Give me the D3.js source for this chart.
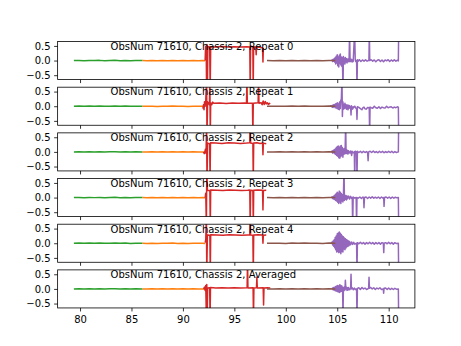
<!DOCTYPE html>
<html><head><meta charset="utf-8">
<script src="https://cdn.jsdelivr.net/npm/d3@7"></script>
<style>body{margin:0;background:#fff}svg{display:block}text{font-family:"DejaVu Sans",sans-serif}</style>
</head><body><div id="chart"></div>
<script>
const titlePrefix = "ObsNum 71610, Chassis 2, ";
const panelNames = ["Repeat 0","Repeat 1","Repeat 2","Repeat 3","Repeat 4","Averaged"];
const xTicks = [80,85,90,95,100,105,110];
const yTicks = [-0.5,0.0,0.5];
const yLimits = [-0.65,0.65];

const greenPts = [[79.4,0.0],[79.9,0.004],[80.4,-0.003],[80.9,0.005],[81.4,-0.002],[81.9,0.006],[82.4,-0.004],[82.9,0.003],[83.4,0.008],[83.9,-0.003],[84.4,0.004],[84.9,-0.005],[85.4,0.003],[86.06,0.0]];
const orangePts = [[86.06,0.0],[86.5,-0.005],[87,0.003],[87.5,-0.006],[88,0.002],[88.5,-0.004],[89,0.004],[89.5,-0.005],[90,0.002],[90.5,-0.006],[91,0.003],[91.5,-0.004],[91.9,0.0],[92.16,-0.01]];
const brownPts = [[98.17,0.0],[98.8,-0.004],[99.4,0.003],[100,-0.005],[100.6,0.004],[101.2,-0.003],[101.8,0.005],[102.4,-0.004],[103,0.003],[103.6,-0.005],[104.2,0.004],[104.81,0.0]];

const redPts = [
 [[92.16,0.0],[92.2,0.47],[92.26,0.5],[92.3,-1],[92.34,0.55],[92.38,-1],[92.42,0.48],[92.6,0.46],[92.65,-1],[92.7,0.47],[93.2,0.46],[93.8,0.48],[94.4,0.46],[95.0,0.47],[95.6,0.46],[96.2,0.47],[96.5,0.46],[96.54,-1],[96.58,0.5],[96.8,0.46],[96.83,-1],[96.87,0.47],[97.08,0.46],[97.12,0.2],[97.16,0.46],[97.5,0.45],[97.74,0.44],[97.78,-0.05],[97.82,0.43]],
 [[91.94,-0.08],[92.0,0.05],[92.05,-0.12],[92.1,0.15],[92.16,0.0],[92.22,0.2],[92.3,1],[92.34,-1],[92.4,0.15],[92.58,0.05],[92.62,1],[92.66,-1],[92.7,0.12],[92.8,0.05],[92.9,0.14],[93.0,0.1],[93.6,0.11],[94.2,0.09],[94.8,0.11],[95.4,0.1],[96.0,0.11],[96.18,0.1],[96.22,1],[96.26,0.1],[96.76,0.1],[96.8,-1],[96.84,0.1],[97.31,0.12],[97.35,1],[97.39,0.1],[97.6,0.12],[97.7,0.05],[97.8,0.18],[97.9,0.06],[98.0,0.16],[98.1,0.08],[98.2,0.12],[98.3,0.06],[98.4,0.1],[98.49,0.08]],
 [[92.0,0.0],[92.08,-0.06],[92.16,0.05],[92.2,0.1],[92.25,-0.05],[92.3,1],[92.34,-1],[92.4,0.3],[92.6,0.28],[92.64,-1],[92.68,0.31],[93.2,0.3],[93.8,0.29],[94.4,0.31],[95.0,0.3],[95.6,0.29],[96.2,0.3],[96.5,0.31],[96.54,1],[96.58,0.3],[96.8,0.29],[96.84,-1],[96.88,0.3],[97.2,0.31],[97.5,0.29],[97.74,0.3],[97.78,-0.1],[97.82,0.3],[98.1,0.28]],
 [[92.16,0.0],[92.22,0.15],[92.28,-1],[92.32,1],[92.38,0.25],[92.62,0.24],[92.66,-1],[92.7,0.26],[93.3,0.25],[93.9,0.24],[94.5,0.26],[95.1,0.25],[95.7,0.24],[96.3,0.25],[96.5,0.26],[96.54,-1],[96.58,0.25],[96.8,0.24],[96.84,-1],[96.88,0.25],[97.3,0.26],[97.74,0.25],[97.78,-0.42],[97.82,0.24],[98.1,0.25]],
 [[92.16,0.02],[92.22,0.12],[92.28,1],[92.32,-1],[92.38,0.28],[92.62,0.27],[92.66,-1],[92.7,0.29],[93.3,0.28],[93.9,0.27],[94.5,0.29],[95.1,0.28],[95.7,0.27],[96.3,0.28],[96.5,0.28],[96.54,1],[96.58,0.28],[96.8,0.27],[96.84,-1],[96.88,0.28],[97.3,0.29],[97.74,0.28],[97.78,0.0],[97.82,0.27],[98.1,0.28]],
 [[92.0,0.0],[92.1,0.06],[92.16,-0.05],[92.22,0.12],[92.28,-1],[92.32,0.15],[92.36,-1],[92.4,0.03],[92.6,0.04],[92.64,-1],[92.68,0.05],[93.2,0.03],[93.8,0.04],[94.4,0.03],[95.0,0.04],[95.6,0.03],[96.24,0.04],[96.28,1],[96.32,0.03],[96.82,0.04],[96.86,-1],[96.9,0.03],[97.15,0.04],[97.19,0.4],[97.23,0.03],[97.8,0.04],[97.84,-0.55],[97.88,0.03],[98.2,0.04],[98.49,0.03]]
];

const purplePts = [
 [[104.45,0],[104.5,0.02],[104.55,-0.03],[104.6,0.04],[104.65,-0.02],[104.7,0.06],[104.75,-0.05],[104.8,0.1],[104.85,-0.12],[104.9,0.15],[104.95,-0.08],[105.0,0.2],[105.05,-0.18],[105.1,0.12],[105.15,-0.22],[105.2,0.18],[105.25,-0.1],[105.3,0.22],[105.35,-0.15],[105.4,0.12],[105.45,-0.2],[105.5,0.1],[105.56,-1],[105.6,0.14],[105.65,-0.1],[105.7,0.08],[105.75,-0.12],[105.8,0.1],[105.85,-0.05],[105.9,0.06],[105.95,-0.08],[106.0,0.05],[106.05,-0.04],[106.1,0.06],[106.15,-0.03],[106.2,1],[106.25,-0.04],[106.3,0.05],[106.35,-0.02],[106.4,0.04],[106.45,-0.05],[106.5,0.02],[106.55,-0.03],[106.69,1],[106.75,0.02],[106.8,-0.03],[106.88,0.0],[106.92,-1],[106.96,0.03],[107.05,-0.02],[107.15,0.03],[107.3,-0.03],[107.45,0.02],[107.6,-0.02],[107.75,0.03],[107.9,-0.02],[108.08,0.01],[108.12,1],[108.16,0.0],[108.3,0.03],[108.45,-0.02],[108.6,0.02],[108.75,-0.04],[108.9,0.01],[109.05,0.03],[109.2,-0.03],[109.35,0.02],[109.5,-0.04],[109.65,0.02],[109.8,-0.01],[109.95,0.03],[110.1,-0.03],[110.25,0.02],[110.4,-0.02],[110.55,0.03],[110.7,-0.02],[110.85,0.01],[110.94,-0.01],[110.97,1]],
 [[104.3,0],[104.4,0.02],[104.5,-0.03],[104.55,0.03],[104.6,-0.04],[104.65,0.05],[104.7,-0.02],[104.75,0.06],[104.8,-0.05],[104.85,0.08],[104.9,-0.06],[104.95,0.1],[105.0,-0.08],[105.05,0.12],[105.1,-0.1],[105.15,0.08],[105.2,-0.12],[105.25,0.15],[105.3,-0.08],[105.35,0.2],[105.4,0.25],[105.46,1],[105.5,-0.35],[105.55,0.15],[105.6,-0.1],[105.65,0.06],[105.7,-0.08],[105.75,0.1],[105.8,-0.06],[105.85,0.04],[105.9,-0.1],[105.95,0.05],[106.0,-0.04],[106.05,-0.12],[106.1,0.03],[106.15,-0.06],[106.2,0.02],[106.25,-0.07],[106.3,-0.02],[106.34,-0.3],[106.38,0.02],[106.45,-0.06],[106.5,-0.1],[106.55,-0.02],[106.6,-0.05],[106.7,0.0],[106.8,-0.06],[106.88,-0.1],[106.92,-0.45],[106.96,-0.02],[107.1,-0.04],[107.25,-0.08],[107.4,-0.12],[107.5,-0.05],[107.6,-0.03],[107.7,-0.09],[107.8,-0.1],[107.95,-0.04],[108.11,-0.05],[108.15,-1],[108.19,-0.03],[108.3,-0.05],[108.45,-0.07],[108.6,0.0],[108.75,-0.05],[108.9,-0.07],[109.05,-0.02],[109.2,-0.08],[109.35,-0.03],[109.5,-0.05],[109.65,-0.06],[109.8,0.0],[109.95,-0.05],[110.1,-0.03],[110.25,-0.02],[110.4,-0.06],[110.55,-0.03],[110.7,-0.05],[110.85,-0.02],[110.94,-0.03],[110.97,-1]],
 [[104.4,0],[104.5,0.03],[104.55,-0.04],[104.6,0.05],[104.65,-0.03],[104.7,0.07],[104.75,-0.06],[104.8,0.1],[104.85,-0.09],[104.9,0.14],[104.95,-0.12],[105.0,0.18],[105.05,-0.15],[105.1,0.2],[105.15,-0.2],[105.2,0.16],[105.25,-0.22],[105.3,0.2],[105.35,-0.16],[105.4,0.22],[105.45,-0.12],[105.5,0.15],[105.55,-0.18],[105.6,0.1],[105.65,-0.08],[105.7,0.12],[105.76,-0.06],[105.82,1],[105.86,-0.05],[105.9,0.08],[105.95,-0.06],[106.0,0.05],[106.05,-0.07],[106.1,0.04],[106.2,-0.04],[106.3,0.03],[106.4,-0.12],[106.45,0.02],[106.55,-0.03],[106.66,0.0],[106.7,-1],[106.74,0.02],[106.88,0.0],[106.92,-1],[106.96,0.02],[107.1,-0.02],[107.25,0.02],[107.4,-0.03],[107.55,0.02],[107.7,-0.02],[107.85,0.01],[107.95,-0.02],[108.0,-0.3],[108.05,0.0],[108.2,0.02],[108.35,-0.02],[108.5,0.03],[108.65,-0.02],[108.8,0.01],[108.95,-0.03],[109.1,0.02],[109.25,-0.02],[109.4,0.02],[109.55,-0.03],[109.7,0.01],[109.85,-0.02],[110.0,0.02],[110.15,-0.02],[110.3,0.02],[110.45,-0.03],[110.6,0.01],[110.75,-0.02],[110.94,0.0],[110.97,1]],
 [[104.4,0],[104.5,0.02],[104.55,-0.03],[104.6,0.04],[104.65,-0.05],[104.7,0.06],[104.75,-0.07],[104.8,0.1],[104.85,-0.1],[104.9,0.14],[104.95,-0.12],[105.0,0.18],[105.05,-0.16],[105.1,0.15],[105.15,-0.2],[105.2,0.22],[105.25,-0.15],[105.3,0.18],[105.35,-0.2],[105.4,0.14],[105.45,-0.12],[105.5,0.1],[105.55,-0.15],[105.6,0.08],[105.66,1],[105.7,-0.1],[105.75,0.08],[105.8,-0.06],[105.85,0.07],[105.9,-0.08],[105.95,0.05],[106.0,-0.04],[106.1,0.05],[106.2,-0.05],[106.3,0.04],[106.4,-0.03],[106.46,0.0],[106.5,-1],[106.55,0.02],[106.7,-0.02],[106.84,0.0],[106.88,-1],[106.92,0.0],[107.05,-0.02],[107.2,0.02],[107.35,-0.03],[107.5,0.02],[107.56,0.0],[107.6,-0.35],[107.65,0.0],[107.8,0.02],[107.95,-0.03],[108.1,0.02],[108.25,-0.02],[108.4,0.03],[108.55,-0.02],[108.7,0.01],[108.85,-0.02],[109.0,0.02],[109.15,-0.03],[109.3,0.02],[109.45,-0.02],[109.51,0.0],[109.55,-0.3],[109.6,0.0],[109.75,0.02],[109.9,-0.02],[110.05,0.02],[110.2,-0.03],[110.35,0.02],[110.5,-0.02],[110.65,0.01],[110.8,-0.01],[110.94,0.0],[110.97,-1]],
 [[104.4,0],[104.5,0.04],[104.55,-0.06],[104.6,0.08],[104.65,-0.1],[104.7,0.12],[104.75,-0.15],[104.8,0.2],[104.85,-0.22],[104.9,0.25],[104.95,-0.3],[105.0,0.32],[105.05,-0.28],[105.1,0.35],[105.15,-0.32],[105.2,0.38],[105.25,-0.3],[105.3,0.34],[105.35,-0.36],[105.4,0.3],[105.45,-0.28],[105.5,0.25],[105.55,-0.3],[105.6,0.22],[105.65,-0.2],[105.7,0.18],[105.75,-0.22],[105.8,0.15],[105.85,-0.16],[105.9,0.12],[105.95,-0.12],[106.0,0.1],[106.05,-0.1],[106.1,0.08],[106.15,-0.08],[106.2,0.06],[106.3,-0.05],[106.4,0.04],[106.5,-0.04],[106.6,0.03],[106.7,-0.03],[106.88,0.0],[106.92,-1],[106.96,0.02],[107.1,-0.02],[107.25,0.03],[107.4,-0.02],[107.55,0.02],[107.7,-0.03],[107.85,0.02],[108.0,-0.02],[108.15,0.03],[108.3,-0.02],[108.45,0.02],[108.6,-0.03],[108.75,0.02],[108.9,-0.02],[109.05,0.02],[109.2,-0.03],[109.35,0.02],[109.48,0.0],[109.52,-0.32],[109.56,0.0],[109.7,0.02],[109.85,-0.02],[110.0,0.03],[110.15,-0.02],[110.3,0.02],[110.45,-0.03],[110.6,0.02],[110.75,-0.01],[110.94,0.0],[110.97,-1]],
 [[104.49,0],[104.55,0.03],[104.6,-0.03],[104.65,0.05],[104.7,-0.04],[104.75,0.06],[104.8,-0.06],[104.85,0.08],[104.9,-0.07],[104.95,0.1],[105.0,-0.09],[105.05,0.12],[105.1,-0.1],[105.15,0.1],[105.2,-0.12],[105.25,0.14],[105.3,-0.1],[105.35,0.12],[105.4,-0.08],[105.45,0.1],[105.52,0.0],[105.56,-1],[105.6,0.05],[105.65,-0.06],[105.7,0.07],[105.75,-0.04],[105.79,0.3],[105.84,0.0],[105.9,0.06],[105.95,-0.05],[106.0,0.04],[106.05,-0.04],[106.1,0.05],[106.2,-0.03],[106.3,0.02],[106.34,0.5],[106.38,0.0],[106.45,0.04],[106.55,-0.03],[106.65,0.03],[106.75,-0.02],[106.88,0.0],[106.92,-1],[106.96,0.02],[107.1,0.04],[107.25,-0.02],[107.4,0.05],[107.55,0.0],[107.7,0.03],[107.85,-0.02],[108.05,0.02],[108.09,0.4],[108.13,0.02],[108.25,0.05],[108.4,0.0],[108.55,0.04],[108.7,-0.02],[108.85,0.03],[109.0,0.0],[109.15,0.04],[109.3,-0.02],[109.47,0.0],[109.51,-0.15],[109.55,0.02],[109.7,0.03],[109.85,-0.02],[110.0,0.03],[110.15,-0.02],[110.3,0.02],[110.45,-0.02],[110.6,0.02],[110.75,-0.01],[110.94,0.0],[110.97,-1]]
];

const colors = {orange:"#ff7f0e", green:"#2ca02c", red:"#d62728", purple:"#9467bd", brown:"#8c564b"};

const W = 461, H = 346;
const mLeft = 0.125*W, mRight = 0.9*W, mTop = (1-0.88)*H, mBottom = (1-0.11)*H;
const n = panelNames.length, hspace = 0.2;
const axH = (mBottom-mTop)/(n + (n-1)*hspace), gap = axH*hspace;

const allX = [greenPts, orangePts, brownPts, ...redPts, ...purplePts].flat().map(d=>d[0]);
const xmin = d3.min(allX), xmax = d3.max(allX), pad = (xmax-xmin)*0.05;
const x = d3.scaleLinear().domain([xmin-pad, xmax+pad]).range([mLeft, mRight]);

const svg = d3.select("#chart").append("svg").attr("width", W).attr("height", H);

panelNames.forEach((name, i) => {
  const y0 = mTop + i*(axH+gap);
  const y = d3.scaleLinear().domain(yLimits).range([y0+axH, y0]);
  const g = svg.append("g");
  const cid = "clip"+i;
  svg.append("clipPath").attr("id", cid).append("rect")
    .attr("x", mLeft).attr("y", y0).attr("width", mRight-mLeft).attr("height", axH);
  const line = d3.line().x(d=>x(d[0])).y(d=>y(d[1]));
  const plot = g.append("g").attr("clip-path", `url(#${cid})`);
  const series = [[orangePts, colors.orange],[greenPts, colors.green],[redPts[i], colors.red],[purplePts[i], colors.purple],[brownPts, colors.brown]];
  series.forEach(([pts,c]) => {
    plot.append("path").attr("d", line(pts)).attr("fill","none").attr("stroke", c)
      .attr("stroke-width",1.5).attr("stroke-linejoin","round").attr("stroke-linecap","butt");
  });
  const xa = d3.axisBottom(x).tickValues(xTicks).tickSize(3.5).tickSizeOuter(0).tickPadding(3.5)
    .tickFormat(i === n-1 ? d3.format("d") : () => "");
  const gx = g.append("g").attr("transform", `translate(0,${y0+axH})`).call(xa);
  const ya = d3.axisLeft(y).tickValues(yTicks).tickSize(3.5).tickSizeOuter(0).tickPadding(3.5).tickFormat(d3.format(".1f"));
  const gy = g.append("g").attr("transform", `translate(${mLeft},0)`).call(ya);
  [gx, gy].forEach(a => {
    a.select(".domain").remove();
    a.selectAll(".tick line").attr("stroke","#000").attr("stroke-width",0.8);
    a.selectAll(".tick text").attr("fill","#000").style("font-size","10px").style("font-family","DejaVu Sans");
  });
  gx.selectAll(".tick text").attr("dy","0.76em");
  g.append("rect").attr("x", mLeft).attr("y", y0).attr("width", mRight-mLeft).attr("height", axH)
    .attr("fill","none").attr("stroke","#000").attr("stroke-width",0.8);
  g.append("text").attr("x", x(82.97)).attr("y", y0+8.3)
    .style("font-size","10px").attr("fill","#000").text(titlePrefix + name);
});
</script></body></html>
